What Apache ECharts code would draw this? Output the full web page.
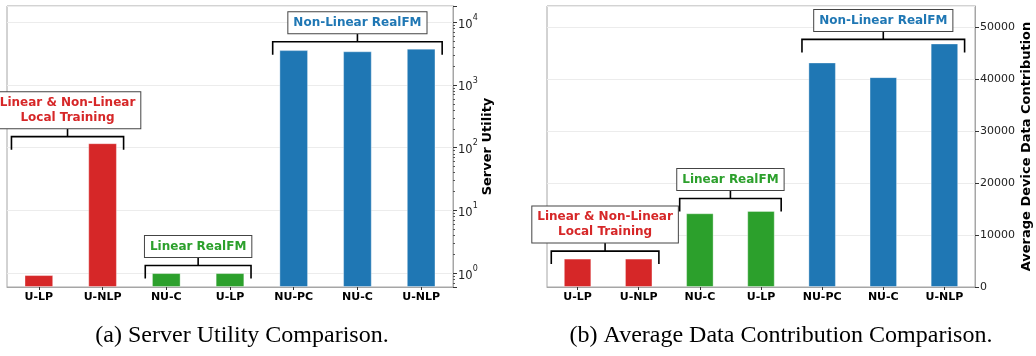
<!DOCTYPE html>
<html>
<head>
<meta charset="utf-8">
<script src="https://cdn.jsdelivr.net/npm/echarts@6/dist/echarts.min.js"></script>
<style>
html,body{margin:0;padding:0;background:#fff;}
#c{width:1036px;height:356px;}
</style>
</head>
<body>
<div id="c"></div>
<script>
// ---- data ----
const categories = ['U-LP', 'U-NLP', 'NU-C', 'U-LP', 'NU-PC', 'NU-C', 'U-NLP'];
const barGroup = [0, 0, 1, 1, 2, 2, 2];
const serverUtility = [0.93, 118, 1.0, 1.0, 3600, 3450, 3800];
const dataContribution = [5460, 5460, 14170, 14620, 43150, 40330, 46800];
const groupNames = ['Linear & Non-Linear\nLocal Training', 'Linear RealFM', 'Non-Linear RealFM'];
const groupFirst = [0, 2, 4];
const groupLast = [1, 3, 6];
const bracketLevelUtility = [150, 1.32, 4900];
const bracketLevelContribution = [6900, 17000, 47580];
const contributionTicks = [0, 10000, 20000, 30000, 40000, 50000];
const captions = ['(a) Server Utility Comparison.', '(b) Average Data Contribution Comparison.'];
const axisTitles = ['Server Utility', 'Average Device Data Contribution'];

// ---- styles ----
const groupColors = ['#d62728', '#2ca02c', '#1f77b4'];
const FONT = 'DejaVu Sans';
const spine = '#a6a6a6';

function barData(vals) {
  return vals.map((v, i) => ({ value: v, itemStyle: { color: groupColors[barGroup[i]] } }));
}
function bracketData(levels) {
  return groupNames.map((n, g) => [groupFirst[g], groupLast[g], levels[g], g]);
}
function renderBracket(params, api) {
  const i0 = api.value(0), i1 = api.value(1), lvl = api.value(2), g = api.value(3);
  const p0 = api.coord([i0, lvl]);
  const p1 = api.coord([i1, lvl]);
  const band = api.size([1, 0])[0];
  const padL = g === 0 ? 0.43 : 0.33, padR = 0.33;
  const xL = p0[0] - padL * band, xR = p1[0] + padR * band, y = p0[1];
  const leg = 13, stem = 8.5;
  const cx = (xL + xR) / 2;
  return {
    type: 'group',
    children: [
      { type: 'polyline', shape: { points: [[xL, y + leg], [xL, y], [xR, y], [xR, y + leg]] },
        style: { stroke: '#000', lineWidth: 1.6, fill: null } },
      { type: 'line', shape: { x1: cx, y1: y, x2: cx, y2: y - stem },
        style: { stroke: '#000', lineWidth: 1.6 } },
      { type: 'text', x: cx, y: y - stem,
        style: { text: groupNames[g], fill: groupColors[g], fontFamily: FONT, fontWeight: 'bold', fontSize: 12,
          align: 'center', verticalAlign: 'bottom', lineHeight: 15,
          backgroundColor: '#fff', borderColor: '#444', borderWidth: 1, padding: [3, 5, 3, 5] } }
    ]
  };
}

const grids = [
  { left: 7, right: 583, top: 6, bottom: 69 },
  { left: 547, right: 61, top: 6, bottom: 69 }
];

function xAxis(gi) {
  return {
    type: 'category', gridIndex: gi, data: categories,
    axisLine: { show: true, lineStyle: { color: spine, width: 1 } },
    axisTick: { show: true, alignWithLabel: true, length: 3, lineStyle: { color: '#333' } },
    axisLabel: { color: '#000', fontFamily: FONT, fontWeight: 'bold', fontSize: 11, margin: 5 },
    splitLine: { show: false }
  };
}

const option = {
  animation: false,
  backgroundColor: '#fff',
  grid: grids.map(g => Object.assign({ show: true, borderColor: spine, borderWidth: 1, backgroundColor: 'transparent' }, g)),
  xAxis: [xAxis(0), xAxis(1)],
  yAxis: [
    {
      type: 'log', logBase: 10, gridIndex: 0, position: 'right', min: 0.6, max: 18200, startValue: 0.6,
      name: axisTitles[0], nameLocation: 'middle', nameGap: 28,
      nameTextStyle: { fontFamily: FONT, fontWeight: 'bold', fontSize: 13, color: '#000' },
      axisLine: { show: true, lineStyle: { color: spine } },
      axisTick: { show: true, length: 4, lineStyle: { color: '#333' } },
      minorTick: { show: true, splitNumber: 9, length: 2, lineStyle: { color: '#555' } },
      axisLabel: {
        showMinLabel: false, showMaxLabel: false, margin: 5,
        formatter: function (v) {
          const l = Math.log10(v); const k = Math.round(l);
          if (Math.abs(l - k) > 1e-6) return '';
          return '{b|10}{s|' + k + '}';
        },
        rich: {
          b: { fontFamily: FONT, fontSize: 11.5, color: '#222', lineHeight: 17, verticalAlign: 'bottom' },
          s: { fontFamily: FONT, fontSize: 8, color: '#222', lineHeight: 17, verticalAlign: 'top' }
        }
      },
      splitLine: { show: true, lineStyle: { color: '#ececec', width: 1 } }
    },
    {
      type: 'value', gridIndex: 1, position: 'right', min: 0, max: 54000, interval: 10000,
      name: axisTitles[1], nameLocation: 'middle', nameGap: 45,
      nameTextStyle: { fontFamily: FONT, fontWeight: 'bold', fontSize: 13, color: '#000' },
      axisLine: { show: true, lineStyle: { color: spine } },
      axisTick: { show: true, length: 4, lineStyle: { color: '#333' } },
      axisLabel: { fontFamily: FONT, fontSize: 11, color: '#222', margin: 5, showMaxLabel: false,
        formatter: v => (contributionTicks.indexOf(v) >= 0 ? String(v) : '') },
      splitLine: { show: true, lineStyle: { color: '#ececec', width: 1 } }
    }
  ],
  series: [
    { type: 'bar', xAxisIndex: 0, yAxisIndex: 0, data: barData(serverUtility), barWidth: '45%',
      itemStyle: { borderColor: 'rgba(255,255,255,0.35)', borderWidth: 1 } },
    { type: 'bar', xAxisIndex: 1, yAxisIndex: 1, data: barData(dataContribution), barWidth: '45%',
      itemStyle: { borderColor: 'rgba(255,255,255,0.35)', borderWidth: 1 } },
    { type: 'custom', xAxisIndex: 0, yAxisIndex: 0, data: bracketData(bracketLevelUtility),
      encode: { x: 0, y: 2 }, renderItem: renderBracket, clip: false, z: 5 },
    { type: 'custom', xAxisIndex: 1, yAxisIndex: 1, data: bracketData(bracketLevelContribution),
      encode: { x: 0, y: 2 }, renderItem: renderBracket, clip: false, z: 5 }
  ],
  graphic: [
    { type: 'text', x: 242, y: 336, style: { text: captions[0], fontFamily: 'Liberation Serif', fontSize: 24, fill: '#000', align: 'center', verticalAlign: 'middle' } },
    { type: 'text', x: 781, y: 336, style: { text: captions[1], fontFamily: 'Liberation Serif', fontSize: 24, fill: '#000', align: 'center', verticalAlign: 'middle' } }
  ]
};

const chart = echarts.init(document.getElementById('c'), null, { renderer: 'canvas' });
chart.setOption(option);
</script>
</body>
</html>
